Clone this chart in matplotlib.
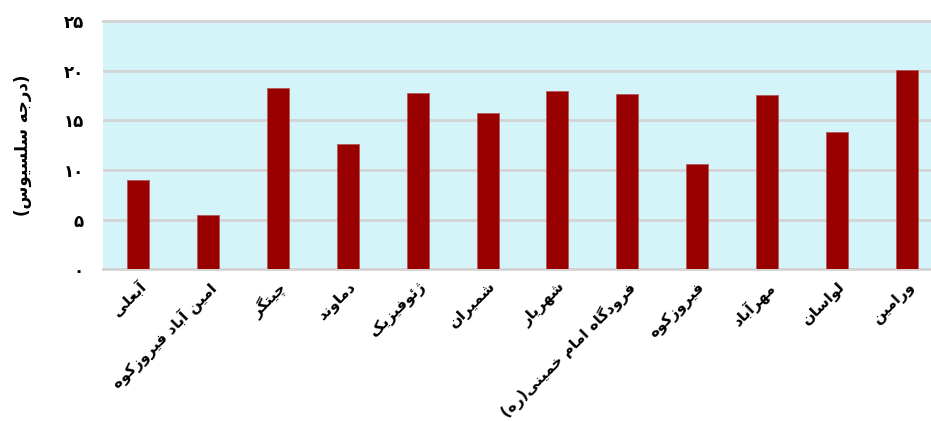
import matplotlib
matplotlib.use("Agg")
import matplotlib.pyplot as plt
import numpy as np

# داده ها: ایستگاه ها و دمای آنها
ایستگاه_ها = [
    "آبعلی",
    "امین آباد فیروزکوه",
    "چیتگر",
    "دماوند",
    "ژئوفیزیک",
    "شمیران",
    "شهریار",
    "فرودگاه امام خمینی(ره)",
    "فیروزکوه",
    "مهرآباد",
    "لواسان",
    "ورامین",
]
دما = [9.05, 5.5, 18.25, 12.6, 17.8, 15.7, 17.95, 17.65, 10.65, 17.55, 13.85, 20.05]
تیک_ها = [0, 5, 10, 15, 20, 25]
عنوان_محور = "(درجه سلسیوس)"

# ------------------------------------------------------------
# شکل دهی ساده حروف فارسی (matplotlib حروف را به هم نمی چسباند)
# (منفرد، پایانی، آغازی، میانی)
FORMS = {
    "ا": ("\uFE8D", "\uFE8E", None, None),
    "آ": ("\uFE81", "\uFE82", None, None),
    "ب": ("\uFE8F", "\uFE90", "\uFE91", "\uFE92"),
    "پ": ("\uFB56", "\uFB57", "\uFB58", "\uFB59"),
    "ت": ("\uFE95", "\uFE96", "\uFE97", "\uFE98"),
    "ث": ("\uFE99", "\uFE9A", "\uFE9B", "\uFE9C"),
    "ج": ("\uFE9D", "\uFE9E", "\uFE9F", "\uFEA0"),
    "چ": ("\uFB7A", "\uFB7B", "\uFB7C", "\uFB7D"),
    "ح": ("\uFEA1", "\uFEA2", "\uFEA3", "\uFEA4"),
    "خ": ("\uFEA5", "\uFEA6", "\uFEA7", "\uFEA8"),
    "د": ("\uFEA9", "\uFEAA", None, None),
    "ذ": ("\uFEAB", "\uFEAC", None, None),
    "ر": ("\uFEAD", "\uFEAE", None, None),
    "ز": ("\uFEAF", "\uFEB0", None, None),
    "ژ": ("\uFB8A", "\uFB8B", None, None),
    "س": ("\uFEB1", "\uFEB2", "\uFEB3", "\uFEB4"),
    "ش": ("\uFEB5", "\uFEB6", "\uFEB7", "\uFEB8"),
    "ع": ("\uFEC9", "\uFECA", "\uFECB", "\uFECC"),
    "ف": ("\uFED1", "\uFED2", "\uFED3", "\uFED4"),
    "ک": ("\uFB8E", "\uFB8F", "\uFB90", "\uFB91"),
    "گ": ("\uFB92", "\uFB93", "\uFB94", "\uFB95"),
    "ل": ("\uFEDD", "\uFEDE", "\uFEDF", "\uFEE0"),
    "م": ("\uFEE1", "\uFEE2", "\uFEE3", "\uFEE4"),
    "ن": ("\uFEE5", "\uFEE6", "\uFEE7", "\uFEE8"),
    "ه": ("\uFEE9", "\uFEEA", "\uFEEB", "\uFEEC"),
    "و": ("\uFEED", "\uFEEE", None, None),
    "ی": ("\uFBFC", "\uFBFD", "\uFBFE", "\uFBFF"),
    "ئ": ("\uFE89", "\uFE8A", "\uFE8B", "\uFE8C"),
    "ؤ": ("\uFE85", "\uFE86", None, None),
}


def فارسی(متن):
    out = []
    n = len(متن)
    for i, c in enumerate(متن):
        if c not in FORMS:
            out.append(c)
            continue
        iso, fin, ini, med = FORMS[c]
        prev = متن[i - 1] if i > 0 else None
        nxt = متن[i + 1] if i + 1 < n else None
        join_prev = prev in FORMS and FORMS[prev][2] is not None
        join_next = ini is not None and nxt in FORMS
        if join_prev and join_next:
            out.append(med)
        elif join_prev:
            out.append(fin)
        elif join_next:
            out.append(ini)
        else:
            out.append(iso)
    s = "".join(reversed(out))
    # پرانتزها در متن راست به چپ قرینه می شوند
    s = s.replace("(", "\0").replace(")", "(").replace("\0", ")")
    return s


def ارقام(عدد):
    return str(عدد).translate(str.maketrans("0123456789", "۰۱۲۳۴۵۶۷۸۹"))


# ------------------------------------------------------------
plt.rcParams["font.family"] = ["DejaVu Sans"]
plt.rcParams["font.weight"] = "bold"

fig = plt.figure(figsize=(9.31, 4.21), dpi=100)
ax = fig.add_axes([0.111, 0.36, 0.9003, 0.59])
ax.set_facecolor("#d5f4f9")

x = np.arange(len(دما))
ax.bar(x, دما, width=0.315, color="#990000", edgecolor="#b35a5a", linewidth=0.6, zorder=3)

ax.set_xlim(-0.5, len(دما) - 0.5)
ax.set_ylim(0, 25)
ax.set_yticks(تیک_ها)
ax.set_yticklabels([ارقام(t) for t in تیک_ها], fontsize=12, fontweight="bold")
ax.yaxis.grid(True, color="#d4d4d4", linewidth=2, zorder=1)
ax.tick_params(axis="y", length=0, pad=14)
ax.tick_params(axis="x", length=0, pad=7)

ax.set_xticks(x)
ax.set_xticklabels([فارسی(s) for s in ایستگاه_ها], rotation=45, ha="right",
                   va="top", rotation_mode="anchor", fontsize=11, fontweight="bold")

for side in ["left", "right"]:
    ax.spines[side].set_visible(False)
ax.spines["bottom"].set_color("#d4d4d4")
ax.spines["bottom"].set_linewidth(2)
ax.spines["top"].set_color("#d4d4d4")
ax.spines["top"].set_linewidth(2)

ax.set_ylabel(فارسی(عنوان_محور), fontsize=12, fontweight="bold")
ax.yaxis.set_label_coords(-0.085, 0.5)

fig.savefig("out.png", dpi=100)
